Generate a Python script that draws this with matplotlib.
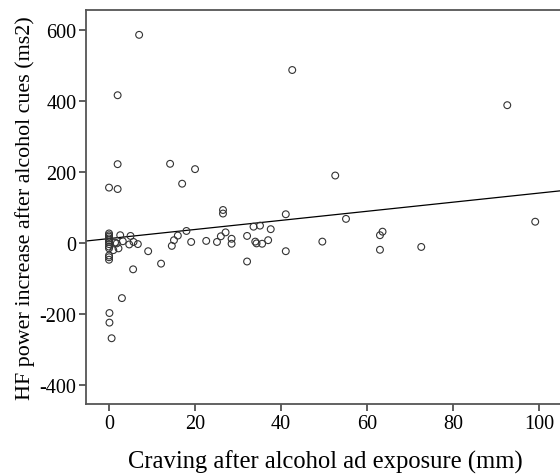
import numpy as np
import matplotlib
matplotlib.use('Agg')
import matplotlib.pyplot as plt

# craving (mm) and HF power increase (ms2)
craving = [7.0, 2.0, 2.0, 14.2, 20.0, 17.0, 0.0, 2.0, 92.6, 52.6, 42.6, 99.1,
           72.6, 41.1, 55.1, 63.6, 63.0, 49.6, 41.1, 63.0, 26.5, 26.5, 18.0,
           16.0, 15.1, 14.6, 19.1, 22.6, 25.1, 26.0, 27.1, 28.5, 28.5, 32.1,
           33.6, 35.1, 37.6, 34.0, 34.3, 35.6, 37.0, 32.1, 12.1,
           0.0, 0.0, 0.0, 0.0, 0.0, 0.0, 0.0, 0.0, 0.0, 0.0, 0.0, 0.0,
           0.1, 0.1, 0.6, 2.6, 1.4, 2.2, 1.0, 3.2, 4.7, 5.0, 5.7, 6.7, 9.1,
           5.6, 3.0, 1.8]
hf_power = [586, 416, 222, 223, 208, 167, 156, 152, 388, 190, 487, 60,
            -11, 81, 68, 32, 22, 4, -23, -19, 93, 83, 34,
            21, 8, -8, 3, 6, 3, 19, 30, 12, -2, 20,
            46, 49, 39, 4, -1, -2, 8, -52, -58,
            27, 22, 18, 13, 8, 3, -3, -10, -15, -35, -40, -47,
            -197, -224, -268, 22, 1, -15, -20, 5, -4, 20, 3, -3, -23,
            -74, -155, -1]

x_ticks = [0, 20, 40, 60, 80, 100]
y_ticks = [-400, -200, 0, 200, 400, 600]

plt.rcParams['font.family'] = ['Liberation Serif', 'DejaVu Serif']
plt.rcParams['axes.unicode_minus'] = False

fig = plt.figure(figsize=(5.6, 4.77), dpi=100)
ax = fig.add_axes([0.1536, 0.151, 0.8536, 0.826])

x = np.array(craving)
y = np.array(hf_power)
# linear fit line
slope, intercept = np.polyfit(x, y, 1)

xlim = (-5.35, 105.8)
ax.scatter(x, y, s=24, facecolors='none', edgecolors='#333333', linewidths=0.8, zorder=3)
xs = np.array(xlim)
ax.plot(xs, intercept + slope * xs, color='black', lw=0.9, zorder=2)

ax.set_xlim(*xlim)
ax.set_ylim(-453, 656)
ax.set_xticks(x_ticks)
ax.set_yticks(y_ticks)

for side in ['left', 'bottom', 'top', 'right']:
    ax.spines[side].set_color('#555555')
    ax.spines[side].set_linewidth(1.3)

ax.tick_params(direction='out', length=5, width=1.1, color='#333333', labelsize=14.5, pad=2)
ax.set_xlabel('Craving after alcohol ad exposure (mm)', fontsize=17.7, labelpad=12)
ax.set_ylabel('HF power increase after alcohol cues (ms2)', fontsize=15.8, labelpad=3)

fig.savefig('out.png', dpi=100)
